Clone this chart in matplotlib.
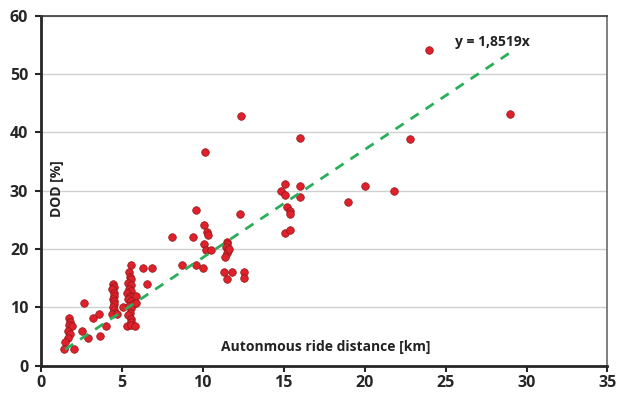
import numpy as np
import matplotlib.pyplot as plt

plt.rcParams['font.family'] = ['Open Sans', 'DejaVu Sans']

# autonomous ride distance [km]
dist = [1.75, 1.8, 1.75, 1.9, 1.7, 1.8, 1.7, 1.5, 1.45, 2.05,
        2.55, 2.66, 2.92, 3.23, 3.6, 3.64, 4.0,
        4.45, 4.5, 4.4, 4.5, 4.55, 4.45, 4.5, 4.55, 4.45, 4.5, 4.6, 4.4, 4.7,
        5.1, 5.55, 5.45, 5.5, 5.6, 5.4, 5.55, 5.45, 5.6, 5.35, 5.5, 5.65, 5.4,
        5.55, 5.7, 5.45, 5.6, 5.5, 5.4, 5.6, 5.55, 5.3, 5.6, 5.8, 5.85, 5.85,
        6.34, 6.57, 6.87,
        8.08, 8.7, 9.37, 9.57, 9.6, 10.0, 10.05, 10.05, 10.13, 10.24, 10.3,
        10.2, 10.5,
        11.5, 11.5, 11.45, 11.55, 11.5, 11.4, 11.6, 11.3, 11.8, 11.5,
        12.28, 12.36, 12.54, 12.54,
        14.85, 15.06, 15.1, 15.2, 15.4, 15.4, 15.1, 15.4, 16.0, 16.0, 16.0,
        19.0, 20.0, 21.8, 22.8, 24.0, 29.0]

# DOD [%]
dod = [8.1, 7.5, 7.0, 6.8, 6.0, 5.5, 4.7, 4.0, 2.8, 2.8,
       6.0, 10.8, 4.8, 8.1, 8.8, 5.1, 6.8,
       14.0, 13.5, 13.1, 12.5, 12.0, 11.5, 11.0, 10.5, 10.0, 9.5, 9.0, 8.8, 8.9,
       10.0, 17.2, 16.0, 15.2, 14.8, 14.2, 13.8, 13.2, 12.8, 12.4, 12.0, 11.8,
       11.4, 11.0, 10.6, 10.3, 9.8, 9.0, 8.6, 8.0, 7.5, 6.8, 7.0, 6.8, 12.0,
       10.8,
       16.8, 14.0, 16.8,
       22.0, 17.2, 22.0, 26.7, 17.2, 16.8, 24.1, 20.8, 36.7, 22.9, 22.4,
       19.9, 19.9,
       21.2, 20.9, 20.4, 19.9, 19.3, 18.7, 20.0, 16.1, 16.1, 14.8,
       26.0, 42.8, 16.1, 15.1,
       30.0, 29.2, 31.1, 27.2, 26.5, 26.0, 22.8, 23.2, 39.1, 30.8, 28.9,
       28.0, 30.8, 30.0, 38.9, 54.1, 43.2]

slope = 1.8519
fit_x = np.array([1.5, 29.0])

fig = plt.figure(figsize=(6.18, 3.94), dpi=100)
ax = fig.add_axes([0.066, 0.072, 0.917, 0.888])

ax.set_xlim(0, 35)
ax.set_ylim(0, 60)
ax.set_xticks(np.arange(0, 36, 5))
ax.set_yticks(np.arange(0, 61, 10))
ax.yaxis.grid(True, color='#d0d0d0', lw=1)
ax.set_axisbelow(True)

ax.scatter(dist, dod, s=30, color='#e0202a', edgecolors='#8a1a1a',
           linewidths=0.5, zorder=3)
ax.plot(fit_x, slope * fit_x, color='#2aae5a', lw=2, ls=(0, (3.5, 3)), zorder=4)

ax.text(25.6, 55.5, 'y = 1,8519x', fontsize=10, fontweight='bold',
        color='#222222', ha='left', va='center')
ax.text(1.0, 30.4, 'DOD [%]', fontsize=10, fontweight='bold', rotation=90,
        color='#222222', ha='center', va='center')
ax.text(17.6, 3.2, 'Autonmous ride distance [km]', fontsize=10,
        fontweight='bold', color='#222222', ha='center', va='center')

for s in ['left', 'bottom']:
    ax.spines[s].set_linewidth(2)
    ax.spines[s].set_color('#262626')
ax.spines['top'].set_linewidth(1.2)
ax.spines['top'].set_color('#3a3a3a')
ax.spines['right'].set_linewidth(1.2)
ax.spines['right'].set_color('#6a6a6a')

ax.tick_params(axis='both', direction='out', length=4, width=1.5,
               color='#262626', labelsize=11.5, labelcolor='#262626')
ax.tick_params(axis='y', pad=5)
ax.tick_params(axis='x', pad=3)
for lab in ax.get_xticklabels() + ax.get_yticklabels():
    lab.set_fontweight('bold')

fig.savefig('out.png', dpi=100)
